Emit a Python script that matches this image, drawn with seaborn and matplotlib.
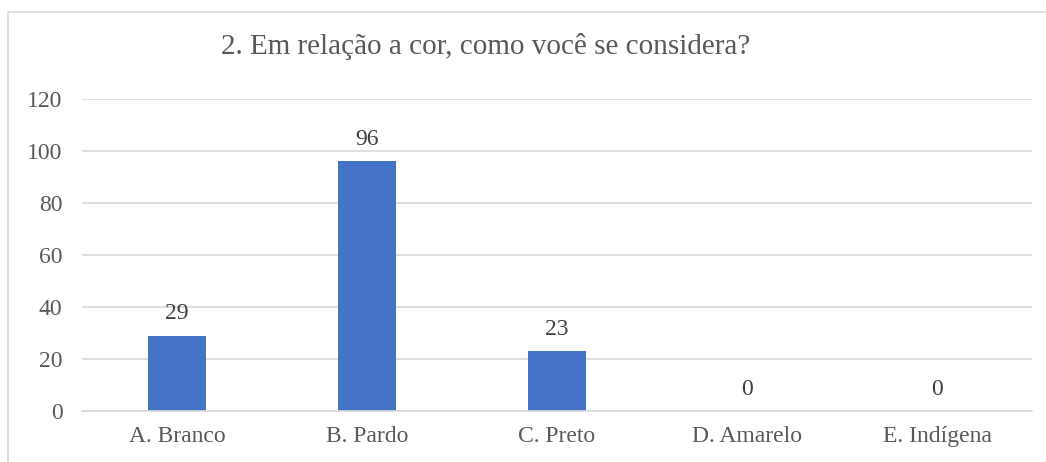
import matplotlib
matplotlib.use("Agg")
import matplotlib.pyplot as plt
import seaborn as sns
import pandas as pd
from matplotlib.patches import Rectangle

categories = ["A. Branco", "B. Pardo", "C. Preto", "D. Amarelo", "E. Indígena"]
values = [29, 96, 23, 0, 0]
yticks = [0, 20, 40, 60, 80, 100, 120]
title = "2. Em relação a cor, como você se considera?"

sns.set_theme(style="white")
plt.rcParams['font.family'] = ['Liberation Serif', 'DejaVu Serif']

W, H = 1046, 462
fig = plt.figure(figsize=(W / 100, H / 100), dpi=100)
ax = fig.add_axes([82 / W, 51 / H, (1032 - 82) / W, (411 - 99) / H])

df = pd.DataFrame({"cat": categories, "val": values})
sns.barplot(data=df, x="cat", y="val", color="#4472C4", saturation=1, width=0.31,
            linewidth=0, ax=ax)

ax.set_ylim(0, 120)
ax.set_xlim(-0.5, len(categories) - 0.5)
ax.set_yticks(yticks)
ax.yaxis.grid(True, color="#d9d9d9", linewidth=1.2)
ax.set_axisbelow(True)
for s in ["top", "right", "left"]:
    ax.spines[s].set_visible(False)
ax.spines["bottom"].set_color("#d9d9d9")
ax.spines["bottom"].set_linewidth(1.2)
ax.set_xlabel("")
ax.set_ylabel("")
ax.tick_params(axis="both", length=0, labelsize=17, labelcolor="#595959")
ax.tick_params(axis="y", pad=14)
ax.tick_params(axis="x", pad=11)

for i, v in enumerate(values):
    ax.annotate(str(v), (i, v), xytext=(0, 8), textcoords="offset points",
                ha="center", va="bottom", fontsize=17, color="#404040")

fig.text(486 / W, 1 - 47 / H, title, ha="center", va="center", fontsize=21, color="#595959")

fig.patches.append(Rectangle((8 / W, -0.1), 1.2, 1 - 12 / H + 0.1, transform=fig.transFigure,
                             fill=False, edgecolor="#d9d9d9", linewidth=1.2))

fig.savefig("out.png", dpi=100)
